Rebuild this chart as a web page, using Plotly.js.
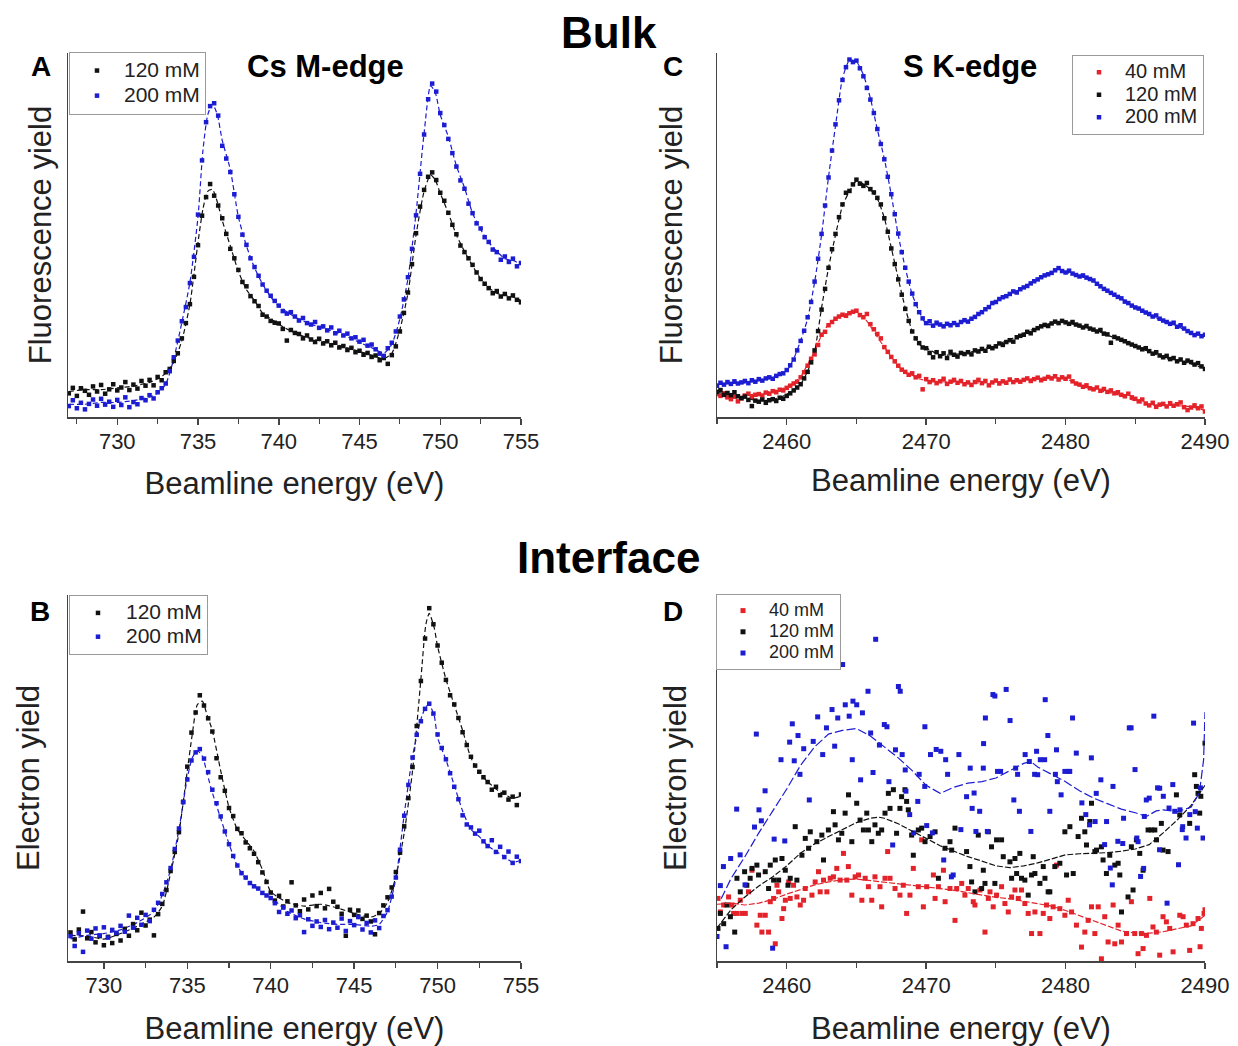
<!DOCTYPE html>
<html>
<head>
<meta charset="utf-8">
<script src="https://cdn.plot.ly/plotly-3.0.1.min.js"></script>
<style>html,body{margin:0;padding:0;background:#fff;}#chart{width:1238px;height:1046px;}</style>
</head>
<body>
<div id="chart"></div>
<script>
// ---------------- DATA ----------------
// Panel A: Bulk, Cs M-edge (fluorescence yield, arbitrary units 0-100)
const aEnergy = [
727,727.25,727.5,727.75, 728,728.25,728.5,728.75, 729,729.25,729.5,729.75, 730,730.25,730.5,730.75,
731,731.25,731.5,731.75, 732,732.25,732.5,732.75, 733,733.25,733.5,733.75, 734,734.25,734.5,734.75,
735,735.25,735.5,735.75, 736,736.25,736.5,736.75, 737,737.25,737.5,737.75, 738,738.25,738.5,738.75,
739,739.25,739.5,739.75, 740,740.25,740.5,740.75, 741,741.25,741.5,741.75, 742,742.25,742.5,742.75,
743,743.25,743.5,743.75, 744,744.25,744.5,744.75, 745,745.25,745.5,745.75, 746,746.25,746.5,746.75,
747,747.25,747.5,747.75, 748,748.25,748.5,748.75, 749,749.25,749.5,749.75, 750,750.25,750.5,750.75,
751,751.25,751.5,751.75, 752,752.25,752.5,752.75, 753,753.25,753.5,753.75, 754,754.25,754.5,754.75, 755];
const aBulk120 = [
6.5,8.0,5.8,7.9, 7.2,6.1,8.4,7.0, 8.8,6.4,7.6,9.0, 7.3,8.1,9.6,7.4,
8.9,7.8,9.9,8.6, 10.2,8.7,11.0,10.1, 12.3,13.2,15.4,17.5, 21.6,25.8,31.0,38.5,
47.2,55.3,60.4,64.0, 60.8,58.1,54.6,50.3, 46.2,43.6,40.4,37.1, 35.9,33.2,31.8,30.5,
28.1,27.6,26.4,25.9, 25.7,24.2,21.0,23.9, 23.1,22.8,21.6,22.4, 21.3,20.6,21.5,20.2,
20.8,19.7,20.4,19.1, 19.5,18.4,19.0,17.8, 18.2,17.1,17.6,16.5, 16.9,15.6,16.2,14.6,
17.0,19.4,23.5,28.6, 34.2,42.0,50.5,57.8, 62.4,66.0,67.2,65.1, 61.6,59.4,56.1,52.8,
50.2,47.1,45.3,43.6, 41.8,39.7,37.9,36.6, 35.4,34.0,34.6,33.1, 33.8,32.6,33.4,32.2, 31.5];
const aBulk200 = [
3.0,4.6,2.4,3.9, 2.1,3.6,4.8,3.1, 5.0,3.4,4.2,2.8, 4.7,3.3,5.4,2.7,
4.1,3.5,5.2,4.6, 6.0,5.1,6.8,7.9, 9.2,12.6,16.4,21.0, 26.3,30.2,36.8,44.0,
55.6,70.5,81.0,85.4, 86.2,82.8,74.5,71.0, 67.3,61.2,55.0,50.1, 47.3,43.6,41.2,38.8,
36.4,34.7,33.3,31.9, 30.6,29.1,28.4,28.8, 27.6,26.5,27.2,25.8, 25.4,26.1,24.5,24.9,
23.8,24.6,23.0,23.7, 22.4,22.9,21.6,21.9, 20.7,21.2,19.6,19.9, 18.6,17.4,16.8,18.9,
20.4,23.5,27.6,32.3, 38.4,46.2,55.4,66.8, 77.6,87.3,91.6,89.4, 83.5,80.2,76.4,72.5,
68.8,65.0,62.7,58.6, 56.0,53.2,51.8,49.4, 48.1,46.0,45.3,43.2, 44.1,42.6,43.5,41.4, 42.3];
const aLineEnergy = [727,728,729,730,731,732,732.5,733,733.5,734,734.5,735,735.3,735.6,735.9,736.2,736.5,737,737.5,738,738.5,739,739.5,740,741,742,743,744,745,746,746.5,747,747.5,748,748.5,749,749.4,749.7,750,750.5,751,751.5,752,752.5,753,753.5,754,754.5,755];
const aLine120 = [7,7.5,7.5,8,8.5,9.5,10.5,12,15,21,31,48,57,62,62.5,59,54,47,40,35,32,28.5,27,25.5,23,21.5,20.5,19.3,18,16.6,16,17.5,24,34,50,62,66.5,65,61.5,56,50,45.5,41.5,38,35.5,34,33.5,33,32];
const aLine200 = [3.5,3.5,4,4,4.5,5.5,6.5,9,16,26,37,55,73,83,86,83,76,68,55,47,41,36.5,33,30.5,27.5,25.5,24,22.5,20.5,18.5,17.5,20,27,38,56,78,91,89,83,77,69,63,56,51.5,48,45.5,43.5,43,42];

// Panel B: Interface, Cs M-edge (electron yield)
const bEnergy = [
728,728.25,728.5,728.75, 729,729.25,729.5,729.75, 730,730.25,730.5,730.75, 731,731.25,731.5,731.75,
732,732.25,732.5,732.75, 733,733.25,733.5,733.75, 734,734.25,734.5,734.75, 735,735.25,735.5,735.75,
736,736.25,736.5,736.75, 737,737.25,737.5,737.75, 738,738.25,738.5,738.75, 739,739.25,739.5,739.75,
740,740.25,740.5,740.75, 741,741.25,741.5,741.75, 742,742.25,742.5,742.75, 743,743.25,743.5,743.75,
744,744.25,744.5,744.75, 745,745.25,745.5,745.75, 746,746.25,746.5,746.75, 747,747.25,747.5,747.75,
748,748.25,748.5,748.75, 749,749.25,749.5,749.75, 750,750.25,750.5,750.75, 751,751.25,751.5,751.75,
752,752.25,752.5,752.75, 753,753.25,753.5,753.75, 754,754.25,754.5,754.75, 755];
const bIface120 = [
7.8,5.9,8.6,13.5, 6.2,7.9,5.1,6.8, 4.3,6.6,4.9,7.4, 5.6,8.8,6.9,10.1,
8.4,13.2,9.7,11.3, 7.0,12.8,15.6,19.4, 24.6,29.8,35.2,43.5, 53.1,62.4,67.9,72.6,
69.8,66.3,62.7,55.4, 50.2,46.5,41.8,39.6, 36.1,34.9,32.4,30.8, 29.3,27.0,24.2,21.6,
18.7,16.5,17.8,14.9, 16.3,21.5,15.2,13.6, 16.8,14.1,17.9,15.0, 18.6,14.4,19.7,16.2,
14.8,12.9,6.9,14.0, 12.6,13.8,11.5,12.4, 10.8,7.3,13.1,15.2, 17.4,20.1,24.3,29.6,
36.8,44.5,53.0,64.2, 76.5,88.1,96.4,92.0, 86.2,81.5,76.8,72.6, 70.1,66.4,62.5,59.0,
55.8,53.4,51.7,50.2, 48.9,46.8,47.6,45.3, 46.0,44.1,44.9,42.6, 45.5];
const bIface200 = [
6.8,4.1,7.6,2.5, 8.3,6.1,8.9,7.0, 9.2,6.4,8.5,7.7, 9.6,8.0,12.4,9.1,
11.8,9.9,12.6,10.9, 14.0,15.9,18.3,21.5, 25.4,30.6,36.2,43.4, 49.6,54.8,57.0,57.9,
55.3,51.6,46.8,43.1, 39.5,35.4,31.9,28.7, 26.1,24.0,22.8,21.3, 20.4,19.8,18.6,17.9,
17.2,15.8,13.4,14.6, 12.9,13.8,11.7,12.5, 7.9,11.4,9.6,10.8, 9.3,11.2,8.7,10.5,
9.1,11.6,8.2,10.9, 9.8,12.0,8.6,10.4, 7.8,11.1,9.0,12.3, 13.9,17.6,22.8,30.4,
39.7,48.1,55.6,61.8, 65.5,68.9,70.3,67.6, 61.9,58.2,55.1,51.3, 47.6,44.2,39.8,37.3,
36.5,34.8,35.6,32.7, 31.4,33.0,29.8,31.2, 28.4,29.9,26.8,28.5, 27.3];
const bLineEnergy = [728,729,730,731,732,733,733.5,734,734.5,735,735.3,735.6,735.9,736.2,736.5,737,737.5,738,738.5,739,739.5,740,741,742,743,744,745,746,746.5,747,747.5,748,748.5,749,749.3,749.5,749.8,750,750.5,751,751.5,752,752.5,753,753.5,754,754.5,755];
const bLine120 = [7,6.8,6,7.5,9.5,12,15,24,35,52,62,70,71,67,63,52,42,36,33,30,25,19,16,15,15.5,14.5,13,12,13,16,23,35,52,77,92,95,91,86,77,70,63,55.5,51.5,49,47,45.5,44.5,45];
const bLine200 = [6,7,7.5,8.5,10.5,13.5,18,25,36,50,55.5,57.5,56,51,46,39,32,26,22.5,20.5,18.5,17.5,13.5,11.5,10.5,10,10,9.5,10,13.5,22.5,40,56,66,69.5,70,67,61,55,48,41,36,34,31.5,30,28.5,27,27.5];

// Panel C: Bulk, S K-edge (fluorescence yield)
const cEnergy = [
2455,2455.25,2455.5,2455.75, 2456,2456.25,2456.5,2456.75, 2457,2457.25,2457.5,2457.75, 2458,2458.25,2458.5,2458.75,
2459,2459.25,2459.5,2459.75, 2460,2460.25,2460.5,2460.75, 2461,2461.25,2461.5,2461.75, 2462,2462.25,2462.5,2462.75,
2463,2463.25,2463.5,2463.75, 2464,2464.25,2464.5,2464.75, 2465,2465.25,2465.5,2465.75, 2466,2466.25,2466.5,2466.75,
2467,2467.25,2467.5,2467.75, 2468,2468.25,2468.5,2468.75, 2469,2469.25,2469.5,2469.75, 2470,2470.25,2470.5,2470.75,
2471,2471.25,2471.5,2471.75, 2472,2472.25,2472.5,2472.75, 2473,2473.25,2473.5,2473.75, 2474,2474.25,2474.5,2474.75,
2475,2475.25,2475.5,2475.75, 2476,2476.25,2476.5,2476.75, 2477,2477.25,2477.5,2477.75, 2478,2478.25,2478.5,2478.75,
2479,2479.25,2479.5,2479.75, 2480,2480.25,2480.5,2480.75, 2481,2481.25,2481.5,2481.75, 2482,2482.25,2482.5,2482.75,
2483,2483.25,2483.5,2483.75, 2484,2484.25,2484.5,2484.75, 2485,2485.25,2485.5,2485.75, 2486,2486.25,2486.5,2486.75,
2487,2487.25,2487.5,2487.75, 2488,2488.25,2488.5,2488.75, 2489,2489.25,2489.5,2489.75, 2490];
const cBulk40 = [
6.3,5.8,6.5,5.4, 4.9,5.6,4.3,5.1, 5.9,6.4,5.5,6.1, 6.3,5.9,6.7,6.4,
7.1,6.8,7.5,7.3, 8.0,8.6,9.2,9.7, 10.9,12.3,14.1,16.0, 17.2,19.8,22.6,23.4,
25.2,26.1,27.0,27.6, 28.1,27.8,28.5,28.9, 29.2,28.0,27.4,28.3, 25.5,24.1,22.8,21.6,
19.2,17.9,16.5,15.3, 14.1,13.0,12.4,11.6, 12.0,10.9,11.3,7.6, 10.4,9.6,10.1,9.3,
9.8,10.5,9.1,9.7, 10.2,9.4,9.9,9.0, 9.5,8.8,9.6,10.2, 9.3,9.9,8.7,9.5,
10.0,9.2,9.8,9.4, 10.3,9.6,10.1,9.7, 10.2,10.6,9.9,10.4, 10.8,10.1,10.5,11.0,
10.6,11.2,10.3,10.9, 10.5,11.1,9.8,9.2, 8.9,8.3,8.7,7.9, 7.6,8.1,7.2,7.7,
6.9,7.3,6.5,6.8, 6.1,5.7,6.4,5.4, 5.0,4.3,4.8,3.7, 3.2,3.9,2.8,3.4,
3.6,2.9,3.8,3.1, 3.5,4.0,2.7,1.9, 2.6,3.2,2.4,2.9, 1.5];
const cBulk120 = [
6.9,7.4,6.1,6.6, 6.0,6.8,5.7,5.2, 5.6,4.7,3.0,4.5, 4.2,4.8,3.9,4.6,
4.9,4.4,5.3,5.0, 5.8,6.5,7.3,8.1, 9.0,10.6,12.4,15.0, 18.3,23.6,29.5,35.2,
41.0,46.1,50.3,54.9, 58.4,61.6,62.1,63.9, 65.2,64.1,63.5,64.3, 62.6,61.7,60.2,58.4,
54.6,50.9,46.3,42.0, 37.8,33.6,29.7,26.4, 23.5,21.6,20.3,19.1, 18.9,17.6,16.4,17.8,
16.7,17.5,16.2,17.9, 17.1,16.6,17.6,17.3, 17.8,17.2,18.3,18.0, 18.7,18.2,19.3,18.9,
19.4,20.2,19.8,20.6, 21.1,20.7,21.9,22.3, 22.6,23.4,23.0,23.9, 24.4,24.9,25.3,25.0,
25.7,26.2,25.8,26.4, 26.0,25.6,26.1,25.4, 25.1,24.6,25.0,24.3, 24.0,23.5,23.9,22.9,
22.7,20.4,22.0,21.6, 21.2,20.8,20.3,19.9, 19.5,19.1,18.6,18.9, 18.1,17.4,17.8,16.9,
16.4,16.8,15.9,16.2, 15.3,15.8,14.9,15.5, 15.1,14.4,14.8,13.9, 13.2];
const cBulk200 = [
8.6,9.4,8.9,9.6, 9.1,9.8,9.2,9.5, 9.9,9.3,10.1,9.7, 10.4,10.0,10.6,10.9,
10.5,11.3,11.8,12.0, 12.9,14.2,15.8,18.3, 20.9,23.7,27.4,31.6, 37.2,43.5,50.3,58.1,
65.8,73.2,80.4,87.0, 92.6,96.1,98.2,97.5, 97.9,95.8,93.6,90.4, 87.2,83.5,79.1,75.0,
70.8,66.0,61.2,55.7, 50.4,45.3,41.0,37.2, 33.9,31.0,28.8,27.1, 25.8,26.3,25.1,25.9,
25.4,24.9,25.6,25.2, 25.8,25.3,26.1,26.6, 26.2,27.0,27.5,28.3, 28.8,29.6,30.2,31.3,
31.6,32.4,32.9,33.2, 33.8,34.5,34.2,35.1, 35.6,36.0,36.7,37.3, 37.8,38.4,38.9,39.2,
39.6,40.3,40.9,40.1, 39.7,40.2,39.4,39.0, 38.6,38.9,38.3,37.9, 37.5,36.6,35.9,35.2,
34.7,34.1,33.6,33.0, 32.6,31.7,31.3,30.6, 30.1,29.8,29.2,28.7, 28.3,27.6,27.9,27.0,
26.5,26.1,25.6,25.9, 24.8,25.2,24.3,23.6, 23.1,22.5,22.9,22.2, 22.6];
const cLineEnergy = [2455,2456,2457,2458,2459,2459.5,2460,2460.5,2461,2461.5,2462,2462.5,2463,2463.5,2464,2464.5,2465,2465.5,2466,2466.5,2467,2467.5,2468,2468.5,2469,2469.5,2470,2471,2472,2473,2474,2475,2476,2477,2478,2479,2479.5,2480,2481,2482,2483,2484,2485,2486,2487,2488,2489,2490];
const cLine40 = [6,5,5.9,6.4,7.2,7.6,8.3,9.5,11,14.5,18,22.5,25.5,27,28,28.6,28.8,27.5,25,22,19.2,16.5,14,12.3,11.5,10.5,10,9.7,9.6,9.3,9.4,9.6,9.9,10.2,10.6,10.8,10.8,10.6,8.6,7.6,6.8,5.9,4.4,3.3,3.3,3.1,2.8,1.8];
const cLine120 = [6.7,6.2,5.3,4.4,4.8,5.4,6.2,7.5,9,12.6,18,30,41,50,58,62,64.8,64,62.5,60,54.7,46.5,38,30,23.6,20,19,17,17.2,17.7,18.6,19.8,21.3,23,24.6,25.8,26.1,26,25,24,22.5,21,19.3,18,16.3,15.4,14.6,13.2];
const cLine200 = [9,9.2,9.4,10,10.8,11.5,12.6,16,21,27,37,50,66,80,93,98,97.6,94,87.6,79,71,61,50,41,33.7,29,25.6,25.3,25.6,26.5,29,31.8,33.8,35.6,38,39.6,40.6,39.8,38.7,37.3,34.6,32.6,30,28,26.3,25,23,22.3];

// Panel D: Interface, S K-edge (electron yield) - noisy scans
const dEnergy40 = [2455.07,2455.24,2455.48,2455.83,2456.07,2456.19,2456.43,2456.67,2456.79,2457.03,
2457.26,2457.51,2457.86,2458.10,2458.22,2458.46,2458.70,2458.82,2459.06,2459.18,
2459.30,2459.42,2459.66,2459.78,2459.90,2460.14,2460.25,2460.49,2460.73,2460.97,
2461.21,2461.33,2461.81,2462.04,2462.28,2462.40,2462.64,2462.88,2463.12,2463.35,
2463.59,2463.83,2464.07,2464.31,2464.42,2464.67,2464.91,2465.15,2465.39,2465.63,
2465.86,2466.10,2466.33,2466.69,2466.81,2467.05,2467.24,2467.41,2467.77,2468.12,
2468.36,2468.60,2468.84,2469.08,2469.44,2469.68,2469.80,2470.04,2470.52,2470.64,
2470.88,2471.24,2471.36,2471.71,2472.07,2472.19,2472.55,2472.78,2473.02,2473.38,
2473.50,2473.86,2474.22,2474.46,2474.58,2474.81,2475.05,2475.41,2475.65,2475.89,
2476.13,2476.37,2476.61,2476.84,2477.08,2477.32,2477.56,2477.80,2478.16,2478.40,
2478.63,2478.87,2479.11,2479.35,2479.59,2479.95,2480.19,2480.43,2480.78,2481.14,
2481.38,2481.62,2481.86,2482.10,2482.34,2482.57,2482.81,2483.05,2483.41,2483.53,
2483.77,2484.01,2484.37,2484.72,2484.96,2485.20,2485.44,2485.56,2485.80,2486.04,
2486.27,2486.51,2486.75,2486.99,2487.23,2487.47,2487.71,2488.19,2488.43,2488.66,
2488.90,2489.14,2489.50,2489.65,2489.74,2489.93,2490.00];
const dIface40 = [17.1,13.4,15.3,17.5,15.3,13.0,13.0,16.6,13.0,13.0,
18.9,24.8,9.8,12.5,7.9,12.5,7.9,16.2,17.1,4.7,
20.7,18.9,11.6,14.3,16.6,21.6,17.1,20.7,17.5,15.3,
16.6,19.8,18.0,21.6,24.4,18.9,22.1,18.9,22.6,23.0,
25.3,22.1,29.4,22.1,25.8,18.0,23.0,23.5,16.6,22.6,
20.3,16.6,23.0,20.3,14.8,22.6,29.9,22.6,19.8,18.0,
20.7,13.0,18.0,25.3,20.3,33.1,14.8,20.3,23.5,17.1,
20.3,24.8,16.2,19.8,11.1,19.8,21.2,18.0,19.8,16.2,
15.3,19.4,7.9,17.1,18.9,14.8,18.0,20.3,15.7,13.4,
17.5,19.4,17.1,19.4,15.7,13.0,7.5,13.4,7.5,13.0,
15.3,11.6,14.8,26.2,14.3,12.5,16.6,13.4,9.8,3.8,
7.9,11.1,14.8,7.5,14.8,0.6,12.1,5.2,15.3,4.7,
9.8,5.2,7.5,16.2,7.5,2.0,7.5,3.4,7.0,17.1,
9.3,7.9,1.6,12.1,10.7,8.9,2.5,12.5,12.1,9.8,
2.9,10.2,11.6,3.9,8.9,13.0,14.0];
const dEnergy120 = [2455.07,2455.24,2455.48,2455.72,2455.96,2456.27,2456.43,2456.67,2456.98,2457.14,
2457.38,2457.51,2457.86,2457.98,2458.46,2458.70,2458.82,2459.06,2459.18,2459.42,
2459.66,2459.90,2460.09,2460.25,2460.61,2460.73,2461.09,2461.33,2461.57,2461.69,
2462.16,2462.52,2462.64,2462.99,2463.35,2463.47,2463.71,2463.95,2464.19,2464.43,
2464.67,2465.02,2465.26,2465.50,2465.74,2465.86,2466.10,2466.33,2466.57,2466.81,
2467.05,2467.29,2467.41,2467.65,2467.88,2468.12,2468.24,2468.48,2468.60,2468.72,
2468.96,2469.08,2469.44,2469.68,2469.92,2470.28,2470.64,2470.88,2471.35,2471.71,
2471.83,2472.07,2472.90,2473.14,2473.26,2473.50,2473.74,2473.98,2474.10,2474.22,
2474.46,2474.69,2474.93,2475.05,2475.41,2475.53,2476.01,2476.13,2476.37,2476.49,
2476.72,2476.84,2477.08,2477.32,2477.56,2477.68,2477.80,2478.16,2478.40,2478.52,
2478.75,2478.87,2479.23,2479.59,2479.95,2480.07,2480.31,2480.55,2480.90,2481.14,
2481.38,2481.50,2481.74,2481.86,2482.10,2482.22,2482.57,2482.69,2482.93,2483.17,
2483.53,2483.77,2483.89,2484.01,2484.48,2484.72,2484.84,2485.08,2485.32,2485.56,
2485.92,2486.16,2486.40,2486.52,2486.87,2486.99,2487.35,2487.95,2488.19,2488.90,
2489.26,2489.38,2489.50,2489.62,2489.70,2490.00];
const dIface120 = [8.9,13.0,10.2,15.3,12.1,7.9,22.6,18.9,24.4,20.7,
22.6,25.3,26.2,23.5,24.4,19.8,26.2,22.1,27.6,22.1,
28.0,24.8,20.7,22.6,36.7,22.1,28.9,33.5,30.8,35.3,
32.6,34.4,27.6,35.8,40.8,37.2,33.1,34.9,40.4,45.4,
32.6,43.1,38.5,35.8,40.4,35.8,32.6,37.2,34.9,35.8,
40.4,45.8,41.7,46.8,34.9,41.7,44.9,46.8,43.6,41.3,
34.4,28.9,35.8,36.3,32.6,34.0,35.3,22.6,30.8,32.6,
30.3,36.3,29.9,25.8,21.6,18.9,34.4,19.8,24.8,21.2,
35.3,31.2,21.2,33.1,33.1,28.5,27.1,22.6,28.0,23.9,
29.4,22.6,22.1,18.0,23.5,28.5,23.9,21.2,25.8,22.6,
18.9,18.9,25.8,26.7,35.3,23.5,36.7,23.9,34.0,39.0,
35.3,31.7,38.1,43.1,29.9,30.3,31.2,27.6,23.9,28.9,
26.2,26.7,23.5,13.4,17.5,31.2,19.4,33.1,29.4,24.8,
35.8,35.8,35.8,33.1,37.6,30.3,29.9,45.4,39.9,37.6,
50.9,47.7,45.8,40.4,45.0,59.5];
const dEnergy200 = [2455.00,2455.24,2455.46,2455.65,2455.98,2456.41,2456.66,2457.01,2457.69,2457.82,
2458.01,2458.18,2458.45,2458.99,2459.10,2459.59,2459.86,2460.21,2460.40,2460.54,
2460.81,2460.95,2461.22,2461.62,2461.90,2462.22,2462.58,2462.85,2463.25,2463.44,
2463.66,2464.01,2464.20,2464.48,2464.75,2465.02,2465.43,2465.83,2466.02,2466.19,
2466.38,2466.65,2467.00,2467.19,2467.33,2468.01,2468.14,2468.28,2468.55,2468.82,
2469.09,2469.50,2469.91,2470.04,2470.31,2470.45,2470.72,2471.05,2471.26,2471.40,
2471.54,2471.81,2471.94,2472.35,2472.49,2473.16,2473.44,2473.57,2473.84,2474.12,
2474.25,2474.39,2474.79,2474.93,2475.12,2475.34,2475.74,2476.02,2476.29,2476.42,
2476.56,2476.69,2477.10,2477.51,2477.78,2477.92,2478.19,2478.54,2478.73,2478.87,
2479.27,2479.41,2479.68,2479.95,2480.22,2480.50,2480.77,2481.17,2481.45,2481.72,
2481.85,2482.12,2482.53,2482.80,2482.94,2483.21,2483.35,2483.75,2484.16,2484.57,
2484.70,2484.98,2485.11,2485.38,2485.65,2485.79,2486.33,2486.60,2486.74,2487.01,
2487.28,2487.42,2487.69,2487.83,2488.10,2488.37,2488.64,2488.91,2489.18,2489.45,
2489.67,2489.86,
2464.70,2465.30,2467.60,2467.80,2468.50,2469.40,2469.90,2472.90,2473.30,2474.10,
2477.40,2478.00,2478.50,2479.35,2480.30,2482.20,2483.40,2484.10,2485.20,2485.60,
2486.00,2486.75,2488.20,2488.40,2489.30];
const dIface200 = [6.7,20.6,25.8,3.9,28.0,41.5,29.0,20.8,36.6,62.0,
41.3,38.3,46.5,3.5,33.3,55.0,32.8,59.8,64.8,54.7,
61.6,51.0,58.0,44.0,60.0,66.7,56.4,63.7,68.7,58.7,
66.4,81.0,70.0,66.9,71.0,70.0,67.8,73.7,62.3,51.5,
87.9,59.0,64.6,64.0,49.0,75.0,73.7,56.4,46.4,40.0,
35.0,51.0,64.0,37.0,56.4,35.0,57.8,57.3,27.6,55.0,
51.0,23.0,23.5,56.4,35.9,52.7,45.9,35.4,40.9,59.4,
66.4,35.4,72.8,72.4,51.8,51.8,74.2,65.7,44.0,52.7,
51.0,40.9,56.4,35.4,51.0,57.3,55.0,71.4,61.6,40.9,
51.0,49.0,45.4,51.8,51.8,66.4,56.8,43.2,40.0,37.2,
55.5,38.1,49.5,31.8,38.1,25.4,20.8,32.7,39.0,63.7,
63.7,52.3,33.6,23.1,39.5,44.0,66.9,47.3,30.4,45.0,
15.8,41.8,48.2,40.9,26.3,35.9,33.6,40.0,65.0,36.3,
47.3,33.6,
55.0,49.5,31.7,57.7,52.2,43.6,47.7,44.9,41.7,52.7,
54.5,50.9,55.0,57.7,51.8,45.8,47.7,32.1,32.6,25.3,
44.5,47.2,41.3,36.7,40.8];
const dLine40Energy = [2455,2456,2457,2458,2459,2460,2461,2462,2463,2464,2465,2466,2467,2468,2469,2470,2471,2472,2473,2474,2475,2476,2477,2478,2479,2480,2481,2482,2483,2484,2485,2486,2487,2488,2489,2490];
const dLine40 = [15.5,15.8,15.3,15.8,16.8,18.3,19.5,20.8,21.6,22.2,22.4,22.0,21.6,21.0,20.6,20.2,19.8,19.3,18.6,18.0,17.4,17.0,16.4,15.8,15.0,13.8,12.4,11.0,9.6,8.2,7.6,7.6,8.0,8.8,9.6,12.5];
const dLine120Energy = [2455,2455.5,2456,2457,2458,2459,2460,2461,2462,2463,2464,2465,2466,2466.6,2467,2468,2469,2470,2471,2472,2473,2474,2475,2476,2477,2478,2479,2480,2481,2482,2483,2484,2485,2486,2487,2488,2489,2490];
const dLine120 = [9,11.5,14,17.5,20.5,23,26,29.5,32,34,36,37.8,39,39.3,39,37.5,35.5,33.5,31.5,30,28.5,27.3,26,25.5,26,26.8,28,29,29.3,29.4,29.6,30,30.6,31.8,35,38.5,42.5,48];
const dLine200Energy = [2455.3,2456,2457,2458,2459,2460,2461,2462,2463,2464,2465,2466,2467,2468,2469,2470,2471,2472,2473,2474,2475,2476,2477,2477.5,2478,2479,2480,2481,2482,2483,2484,2485,2485.8,2486.5,2487,2488,2489,2489.6,2489.9,2490];
const dLine200 = [17,22.5,28.5,35,41,47,53.5,58.5,62,63,63.5,61.5,58.5,55.5,52,48,45.8,47.5,48.6,49,50,52,54,54.5,53,51,49,46.5,44.5,43,41.5,40.5,39.5,41,41.3,40.8,42,46,55,68];

const seriesNames = ['40 mM', '120 mM', '200 mM'];
const csTicks = [730, 735, 740, 745, 750, 755];
const sTicks = [2460, 2470, 2480, 2490];

// ---------------- STYLE ----------------
const FONT = 'Liberation Sans, Arial, Helvetica, sans-serif';
const RED = '#e3222a', BLACK = '#111111', BLUE = '#1c1cd2';
const W = 1238, H = 1046;
const fx = p => p / W, fy = p => 1 - p / H;

function label(name, size) { return '<span style="font-size:' + size + 'px">' + name + '</span>'; }
function pts(x, y, color, name, xa, ya, leg, labelSize, size) {
  return {type: 'scatter', mode: 'markers', x: x, y: y, name: label(name, labelSize), xaxis: xa, yaxis: ya,
    legend: leg, showlegend: true, hoverinfo: 'x+y',
    marker: {symbol: 'square', size: size || 4.5, color: color, line: {width: 0}}};
}
function line(x, y, color, xa, ya, shape, dash) {
  return {type: 'scatter', mode: 'lines', x: x, y: y, xaxis: xa, yaxis: ya, showlegend: false,
    hoverinfo: 'skip', line: {color: color, width: 1.2, dash: dash || '5px,3px', shape: shape || 'spline', smoothing: 0.6}};
}

const traces = [
  // A
  line(aLineEnergy, aLine120, BLACK, 'x', 'y'),
  line(aLineEnergy, aLine200, BLUE, 'x', 'y'),
  pts(aEnergy, aBulk120, BLACK, seriesNames[1], 'x', 'y', 'legend', 21),
  pts(aEnergy, aBulk200, BLUE, seriesNames[2], 'x', 'y', 'legend', 21),
  // C
  line(cLineEnergy, cLine40, RED, 'x2', 'y2'),
  line(cLineEnergy, cLine120, BLACK, 'x2', 'y2'),
  line(cLineEnergy, cLine200, BLUE, 'x2', 'y2'),
  pts(cEnergy, cBulk40, RED, seriesNames[0], 'x2', 'y2', 'legend2', 20),
  pts(cEnergy, cBulk120, BLACK, seriesNames[1], 'x2', 'y2', 'legend2', 20),
  pts(cEnergy, cBulk200, BLUE, seriesNames[2], 'x2', 'y2', 'legend2', 20),
  // B
  line(bLineEnergy, bLine120, BLACK, 'x3', 'y3'),
  line(bLineEnergy, bLine200, BLUE, 'x3', 'y3'),
  pts(bEnergy, bIface120, BLACK, seriesNames[1], 'x3', 'y3', 'legend3', 21),
  pts(bEnergy, bIface200, BLUE, seriesNames[2], 'x3', 'y3', 'legend3', 21),
  // D
  pts(dEnergy40, dIface40, RED, seriesNames[0], 'x4', 'y4', 'legend4', 18, 5),
  pts(dEnergy120, dIface120, BLACK, seriesNames[1], 'x4', 'y4', 'legend4', 18, 5),
  pts(dEnergy200, dIface200, BLUE, seriesNames[2], 'x4', 'y4', 'legend4', 18, 5),
  line(dLine40Energy, dLine40, RED, 'x4', 'y4', 'linear', '6px,2px'),
  line(dLine120Energy, dLine120, BLACK, 'x4', 'y4', 'linear', '6px,2px'),
  line(dLine200Energy, dLine200, BLUE, 'x4', 'y4', 'linear', '9px,3px')
];

function xAxis(domain, range, tickvals, minorDtick, anchor, standoff) {
  return {domain: domain, range: range, anchor: anchor, tickmode: 'array', tickvals: tickvals,
    showline: true, linecolor: '#444', linewidth: 1.5, ticks: 'outside', ticklen: 6, tickwidth: 1.5, tickcolor: '#444',
    minor: {ticks: 'outside', ticklen: 5, tickwidth: 1.2, tickcolor: '#444', dtick: minorDtick, tick0: tickvals[0], showgrid: false},
    showgrid: false, zeroline: false, ticklabelstandoff: -2,
    tickfont: {family: FONT, size: 22, color: '#222'},
    title: {text: 'Beamline energy (eV)', font: {family: FONT, size: 31, color: '#222'}, standoff: standoff}};
}
function yAxis(domain, anchor, text, standoff) {
  return {domain: domain, range: [0, 100], anchor: anchor, showline: true, linecolor: '#444', linewidth: 1.5,
    ticks: '', showticklabels: false, showgrid: false, zeroline: false,
    title: {text: text, font: {family: FONT, size: 31, color: '#222'}, standoff: standoff}};
}
function legendBox(x, y, size, itemwidth) {
  return {x: x, y: y, xanchor: 'left', yanchor: 'top', bgcolor: '#fff', bordercolor: '#9a9a9a', borderwidth: 1,
    font: {family: FONT, size: size, color: '#222'}, itemclick: false, tracegroupgap: 0, itemwidth: itemwidth};
}
const left = [fx(68), fx(521)], right = [fx(717), fx(1205)];
const topRow = [fy(417), fy(53)], botRow = [fy(961), fy(595)];

function ann(text, x, y, size) {
  return {text: '<b>' + text + '</b>', x: fx(x), y: fy(y), xref: 'paper', yref: 'paper', showarrow: false,
    xanchor: 'center', yanchor: 'middle', font: {family: FONT, size: size, color: '#000'}};
}

const layout = {
  width: W, height: H, margin: {l: 0, r: 0, t: 0, b: 0}, paper_bgcolor: '#fff', plot_bgcolor: '#fff',
  font: {family: FONT, color: '#222'},
  xaxis: xAxis(left, [726.95, 755], csTicks, 2.5, 'y', 19),
  yaxis: yAxis(topRow, 'x', 'Fluorescence yield', 5),
  xaxis2: xAxis(right, [2455, 2490], sTicks, 5, 'y2', 16),
  yaxis2: yAxis(topRow, 'x2', 'Fluorescence yield', 23),
  xaxis3: xAxis(left, [727.85, 755], csTicks, 2.5, 'y3', 20),
  yaxis3: yAxis(botRow, 'x3', 'Electron yield', 17),
  xaxis4: xAxis(right, [2455, 2490], sTicks, 5, 'y4', 20),
  yaxis4: yAxis(botRow, 'x4', 'Electron yield', 19),
  legend: legendBox(fx(69), fy(52), 17, 44),
  legend2: legendBox(fx(1072), fy(55), 15, 42),
  legend3: legendBox(fx(69), fy(595), 16, 46),
  legend4: legendBox(fx(716), fy(594), 14, 42),
  annotations: [
    ann('Bulk', 609, 33, 44),
    ann('Interface', 608, 557, 44),
    ann('Cs M-edge', 325, 66, 31),
    ann('S K-edge', 970, 66, 31),
    ann('A', 41, 66, 28),
    ann('C', 673, 66, 28),
    ann('B', 40, 611, 28),
    ann('D', 673, 611, 28)
  ]
};

Plotly.newPlot('chart', traces, layout, {staticPlot: true, displayModeBar: false});
</script>
</body>
</html>
